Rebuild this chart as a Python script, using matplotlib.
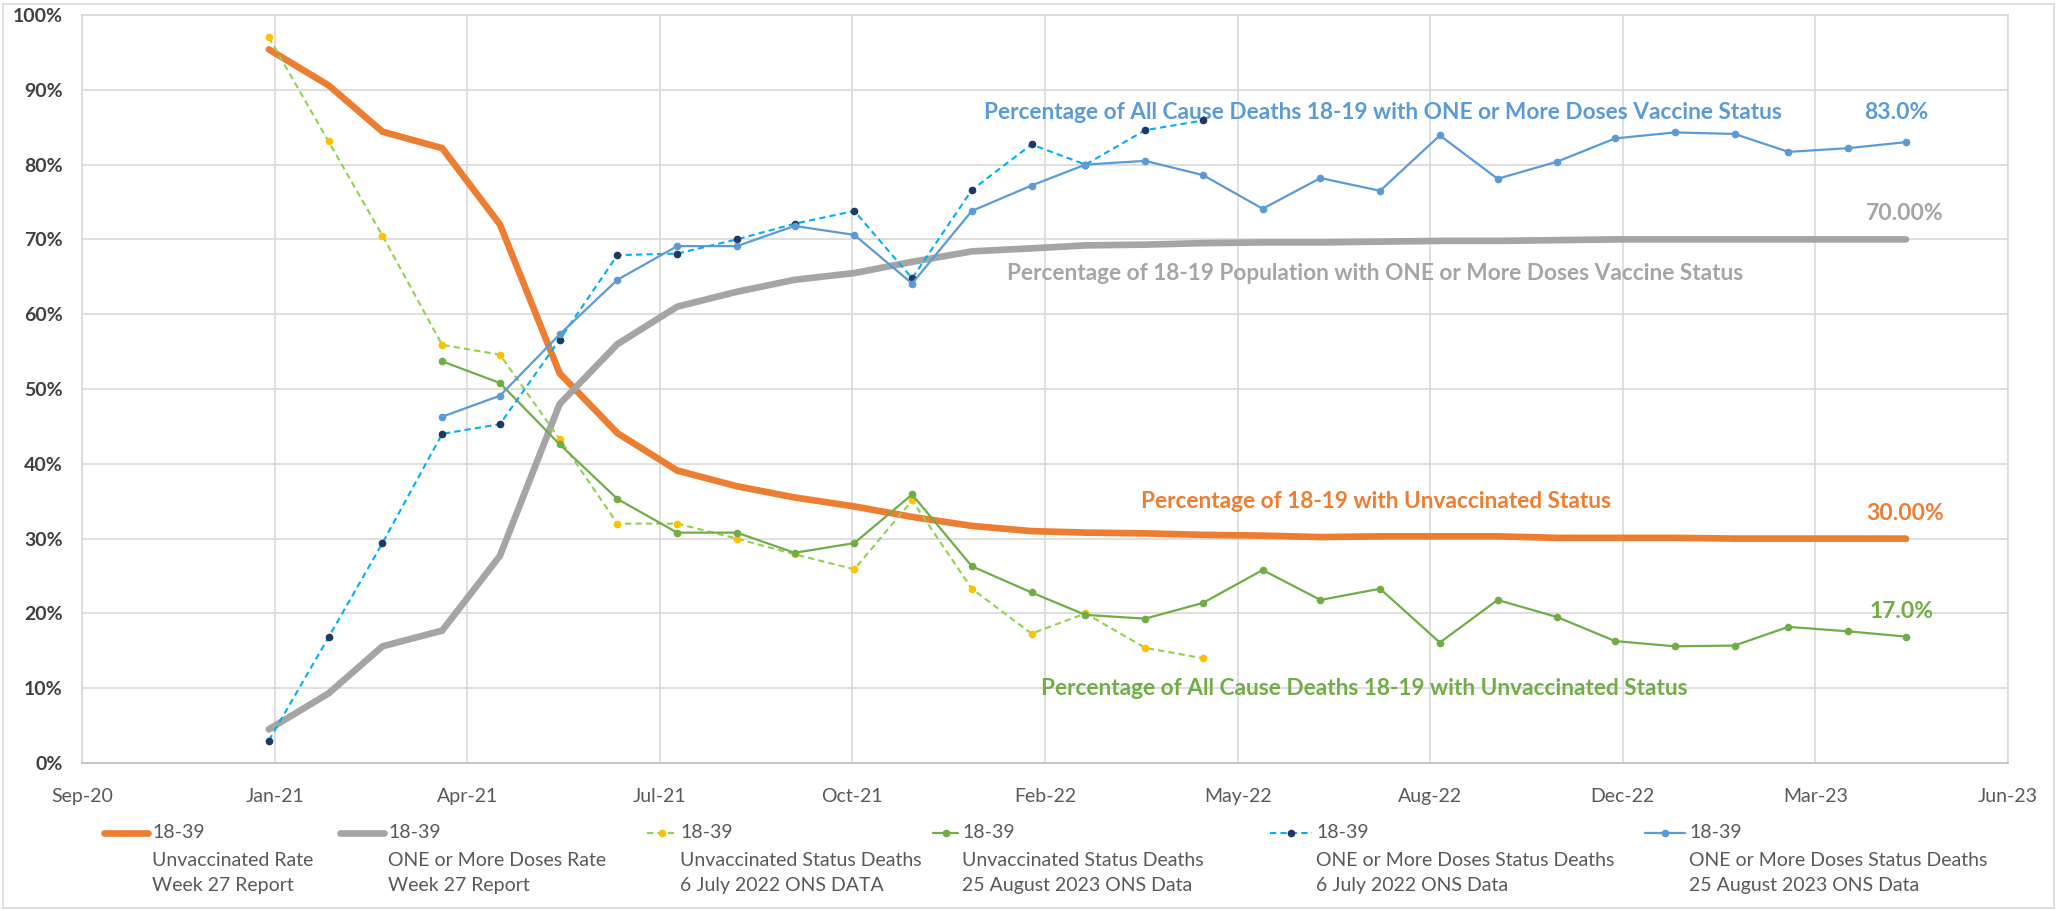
import numpy as np
import pandas as pd
import matplotlib
matplotlib.use("Agg")
import matplotlib.pyplot as plt
import matplotlib.dates as mdates
from matplotlib.lines import Line2D
from matplotlib.patches import Rectangle
import datetime as dt

plt.rcParams['font.family'] = ['Lato', 'DejaVu Sans']

# ---------------- data ----------------
months = pd.date_range("2021-01-01", "2023-05-01", freq="MS")  # 29 monthly points
nan = np.nan

unvacc_rate = [95.4, 90.6, 84.4, 82.2, 72.0, 52.1, 44.1, 39.1, 37.0, 35.5, 34.3, 32.9,
               31.7, 31.0, 30.8, 30.7, 30.5, 30.4, 30.2, 30.3, 30.3, 30.3, 30.1, 30.1,
               30.1, 30.0, 30.0, 30.0, 30.0]
one_dose_rate = [4.5, 9.3, 15.6, 17.7, 27.7, 48.0, 56.0, 61.0, 63.0, 64.6, 65.5, 67.0,
                 68.4, 68.8, 69.2, 69.3, 69.5, 69.6, 69.6, 69.7, 69.8, 69.8, 69.9, 70.0,
                 70.0, 70.0, 70.0, 70.0, 70.0]
unvacc_deaths_2022 = [97.0, 83.1, 70.5, 55.9, 54.6, 43.3, 32.0, 32.0, 30.0, 27.9, 25.9, 35.1,
                      23.3, 17.3, 20.0, 15.4, 14.0] + [nan] * 12
unvacc_deaths_2023 = [nan, nan, nan, 53.7, 50.8, 42.6, 35.3, 30.8, 30.8, 28.1, 29.4, 35.9,
                      26.3, 22.8, 19.8, 19.3, 21.4, 25.8, 21.8, 23.3, 16.1, 21.8, 19.5, 16.3,
                      15.6, 15.7, 18.2, 17.6, 16.9]
dose_deaths_2022 = [3.0, 16.8, 29.4, 44.0, 45.3, 56.6, 67.9, 68.1, 70.0, 72.1, 73.8, 64.8,
                    76.6, 82.7, 80.0, 84.6, 85.9] + [nan] * 12
dose_deaths_2023 = [nan, nan, nan, 46.3, 49.1, 57.3, 64.6, 69.1, 69.1, 71.8, 70.6, 64.1,
                    73.8, 77.2, 80.0, 80.5, 78.6, 74.1, 78.2, 76.5, 83.9, 78.1, 80.4, 83.5,
                    84.3, 84.1, 81.7, 82.2, 83.0]

legend_titles = ["Unvaccinated Rate\nWeek 27 Report",
                 "ONE or More Doses Rate\nWeek 27 Report",
                 "Unvaccinated Status Deaths\n6 July 2022 ONS DATA",
                 "Unvaccinated Status Deaths\n25 August 2023 ONS Data",
                 "ONE or More Doses Status Deaths\n6 July 2022 ONS Data",
                 "ONE or More Doses Status Deaths\n25 August 2023 ONS Data"]
yticks = list(range(0, 101, 10))

# ---------------- style ----------------
C_OR = "#ED7D31"
C_GR = "#A5A5A5"
C_LG = "#92D050"
C_YE = "#FFC000"
C_GN = "#70AD47"
C_CY = "#00B0F0"
C_NV = "#203864"
C_BL = "#5B9BD5"
TXT = "#595959"

W, H = 2057, 910
fig = plt.figure(figsize=(W / 100, H / 100), dpi=100)
fig.patches.append(Rectangle((3 / W, 2 / H), (2054 - 3) / W, (906 - 2) / H,
                             transform=fig.transFigure, fill=False,
                             edgecolor="#D9D9D9", linewidth=1.2))

ax = fig.add_axes([82 / W, (H - 763) / H, 1926 / W, 748 / H])

styles = [
    dict(color=C_OR, lw=4.8, marker="o", ms=2.5, mfc=C_OR, mec=C_OR, ls="-"),
    dict(color=C_GR, lw=4.8, marker="o", ms=2.5, mfc=C_GR, mec=C_GR, ls="-"),
    dict(color=C_LG, lw=1.5, marker="o", ms=4.5, mfc=C_YE, mec=C_YE, ls=(0, (3, 2))),
    dict(color=C_GN, lw=1.6, marker="o", ms=4.5, mfc=C_GN, mec=C_GN, ls="-"),
    dict(color=C_CY, lw=1.5, marker="o", ms=4.5, mfc=C_NV, mec=C_NV, ls=(0, (3, 2))),
    dict(color=C_BL, lw=1.6, marker="o", ms=4.5, mfc=C_BL, mec=C_BL, ls="-"),
]
series = [unvacc_rate, one_dose_rate, unvacc_deaths_2022, unvacc_deaths_2023,
          dose_deaths_2022, dose_deaths_2023]

for i, (vals, st) in enumerate(zip(series, styles)):
    v = np.array(vals, dtype=float)
    ax.plot(months, v, zorder=3 + i, solid_capstyle="round", **st)

# axes
start = dt.datetime(2020, 9, 26)
end = start + dt.timedelta(days=1000)
ax.set_xlim(start, end)
ax.set_ylim(0, 100)
ax.set_xticks([start + dt.timedelta(days=100 * k) for k in range(11)])
ax.xaxis.set_major_formatter(mdates.DateFormatter("%b-%y"))
ax.set_yticks(yticks)
ax.set_yticklabels([f"{t}%" for t in yticks])
ax.tick_params(axis="x", length=0, pad=18, labelsize=14, labelcolor=TXT)
ax.tick_params(axis="y", length=0, pad=14, labelsize=14, labelcolor="#404040")
for lab in ax.get_yticklabels():
    lab.set_fontweight("bold")
ax.grid(True, color="#D9D9D9", lw=1.2, zorder=0)
ax.set_axisbelow(True)
for s in ["top", "right", "left"]:
    ax.spines[s].set_color("#D9D9D9")
    ax.spines[s].set_linewidth(1.2)
ax.spines["bottom"].set_color("#BFBFBF")
ax.spines["bottom"].set_linewidth(1.2)

# annotations
FS = 16.3
ax.text(0.4683, 0.869, "Percentage of All Cause Deaths 18-19 with ONE or More Doses Vaccine Status",
        transform=ax.transAxes, color=C_BL, fontsize=FS, fontweight="bold", va="center", ha="left")
ax.text(0.4802, 0.655, "Percentage of 18-19 Population with ONE or More Doses Vaccine Status",
        transform=ax.transAxes, color=C_GR, fontsize=FS, fontweight="bold", va="center", ha="left")
ax.text(0.5498, 0.349, "Percentage of 18-19 with Unvaccinated Status",
        transform=ax.transAxes, color=C_OR, fontsize=FS, fontweight="bold", va="center", ha="left")
ax.text(0.4979, 0.100, "Percentage of All Cause Deaths 18-19 with Unvaccinated Status",
        transform=ax.transAxes, color=C_GN, fontsize=FS, fontweight="bold", va="center", ha="left")

ax.text(0.9418, 0.869, "83.0%", transform=ax.transAxes, color=C_BL, fontsize=16.5,
        fontweight="bold", va="center", ha="center")
ax.text(0.9465, 0.734, "70.00%", transform=ax.transAxes, color=C_GR, fontsize=16.5,
        fontweight="bold", va="center", ha="center")
ax.text(0.9465, 0.333, "30.00%", transform=ax.transAxes, color=C_OR, fontsize=16.5,
        fontweight="bold", va="center", ha="center")
ax.text(0.9449, 0.203, "17.0%", transform=ax.transAxes, color=C_GN, fontsize=16.5,
        fontweight="bold", va="center", ha="center")

# legend (manual, handle aligned with first line as in Excel)
handle_x = [104, 340, 647, 933, 1270, 1645]
text_x = [152, 388, 680, 962, 1316, 1689]
line_y = [833, 860, 886]
for i in range(6):
    st = styles[i]
    x0, x1 = handle_x[i], text_x[i] - 4
    yy = 1 - line_y[0] / H
    fig.add_artist(Line2D([x0 / W, x1 / W], [yy, yy], transform=fig.transFigure,
                          color=st["color"], lw=st["lw"], ls=st["ls"],
                          solid_capstyle="round"))
    fig.add_artist(Line2D([(x0 + x1) / 2 / W], [yy], transform=fig.transFigure,
                          marker="o", ms=st["ms"] if st["ms"] > 3 else 3,
                          mfc=st["mfc"], mec=st["mec"], ls="none"))
    lines = ["18-39"] + legend_titles[i].split("\n")
    for ly, t in zip(line_y, lines):
        fig.text(text_x[i] / W, 1 - ly / H, t, color=TXT, fontsize=14,
                 ha="left", va="center")

fig.savefig("out.png", dpi=100, facecolor="white")
